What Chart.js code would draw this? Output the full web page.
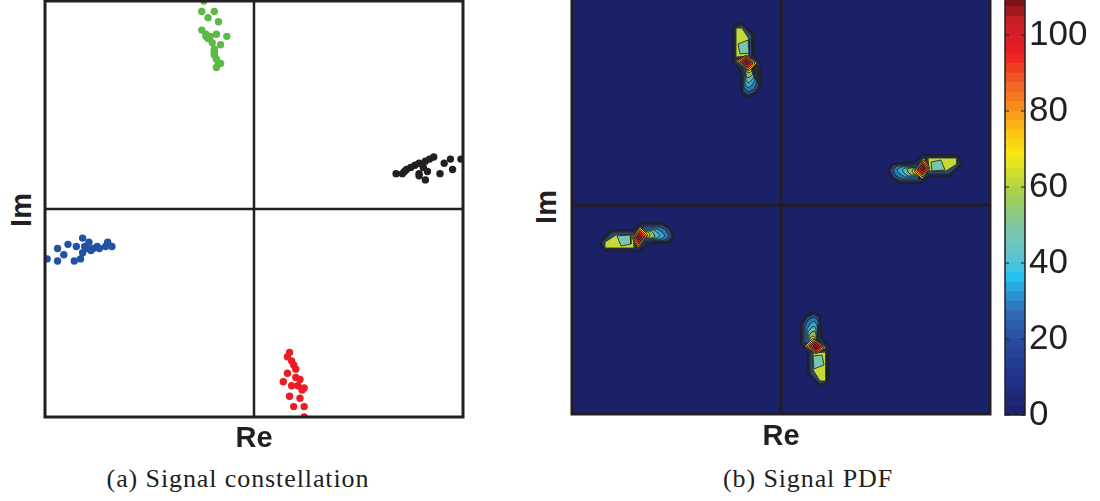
<!DOCTYPE html>
<html>
<head>
<meta charset="utf-8">
<title>Signal constellation and PDF</title>
<script src="https://cdn.jsdelivr.net/npm/chart.js@4.4.1/dist/chart.umd.min.js"></script>
<style>
  html, body { margin: 0; padding: 0; background: #fff; }
  body { width: 1100px; height: 501px; position: relative; overflow: hidden; }
  canvas { position: absolute; }
  #constellation { left: 40px; top: -4px; }
  #pdf { left: 567px; top: -9px; }
  #colorbar { left: 1000px; top: -8px; }
  .axisLabel { position: absolute; font-family: "Liberation Sans", Arial, sans-serif; font-weight: bold;
               font-size: 29px; color: #231f20; text-align: center; width: 80px; height: 34px; line-height: 34px; }
  .caption { position: absolute; font-family: "Liberation Serif", "Times New Roman", serif; font-size: 26px;
             letter-spacing: 0.9px; color: #231f20; text-align: center; width: 400px; height: 30px;
             line-height: 30px; top: 464px; }
</style>
</head>
<body>
<canvas id="constellation" width="428" height="426"></canvas>
<canvas id="pdf" width="428" height="428"></canvas>
<canvas id="colorbar" width="100" height="440"></canvas>

<div class="axisLabel" style="left:-19px; top:193px; transform: rotate(-90deg);">Im</div>
<div class="axisLabel" style="left:214px; top:420px;">Re</div>
<div class="axisLabel" style="left:506px; top:190px; transform: rotate(-90deg);">Im</div>
<div class="axisLabel" style="left:741px; top:418px;">Re</div>
<div class="caption" style="left:38px;">(a) Signal constellation</div>
<div class="caption" style="left:608px;">(b) Signal PDF</div>

<script>
// ---- (a) received symbols, [Re, Im], axes span -1..1 ----
const greenPts = [[-0.24,1.00],[-0.25,0.95],[-0.19,0.95],[-0.22,0.92],[-0.17,0.90],[-0.25,0.86],[-0.23,0.84],
  [-0.18,0.84],[-0.13,0.83],[-0.22,0.82],[-0.20,0.80],[-0.16,0.79],[-0.19,0.76],[-0.19,0.74],[-0.18,0.72],
  [-0.17,0.70],[-0.18,0.68],[-0.21,0.83],[-0.19,0.77],[-0.19,0.75],[-0.23,0.83],[-0.16,0.70]];
const blackPts = [[0.68,0.17],[0.71,0.17],[0.73,0.19],[0.75,0.20],[0.77,0.21],[0.79,0.22],[0.82,0.23],[0.84,0.24],
  [0.86,0.25],[0.79,0.17],[0.83,0.18],[0.82,0.14],[0.79,0.16],[0.89,0.17],[0.91,0.22],[0.94,0.24],[0.95,0.19],
  [0.99,0.24],[0.81,0.20],[0.72,0.18]];
const bluePts = [[-0.99,-0.24],[-0.94,-0.19],[-0.94,-0.25],[-0.91,-0.22],[-0.89,-0.17],[-0.86,-0.25],[-0.85,-0.18],
  [-0.82,-0.14],[-0.83,-0.24],[-0.82,-0.21],[-0.80,-0.19],[-0.79,-0.16],[-0.77,-0.19],[-0.75,-0.18],[-0.74,-0.19],
  [-0.71,-0.18],[-0.70,-0.16],[-0.68,-0.18],[-0.81,-0.18],[-0.78,-0.20]];
const redPts = [[0.17,-0.69],[0.16,-0.71],[0.18,-0.73],[0.19,-0.75],[0.16,-0.79],[0.14,-0.83],[0.20,-0.81],
  [0.18,-0.85],[0.22,-0.82],[0.21,-0.85],[0.24,-0.86],[0.17,-0.90],[0.22,-0.91],[0.19,-0.95],[0.24,-0.95],
  [0.24,-1.00],[0.20,-0.77],[0.23,-0.87]];

// ---- (b) filled contour polygons of the PDF, grid units (-209..209) ----
// each blob: outer outline, plateau lobe rings, inner lobe bands, peak rings
const blobTop = [
  [[-43,181],[-39,182],[-27,170],[-27,149],[-20,140],[-20,120],[-25,112],[-33,108],[-39,112],[-41,135],[-48,143],[-48,177]],
  [[-46,178],[-39,180],[-29,169],[-29,148],[-46,146]],
  [[-45,177],[-39,177],[-32,166],[-32,149],[-45,148]],
  [[-43,161],[-33,165],[-32,152],[-41,151]],
  [[-39,138],[-22,139],[-22,120],[-26,113],[-33,110],[-38,114]],
  [[-38,139],[-24,139],[-24,122],[-27,116],[-33,113],[-37,117]],
  [[-37,140],[-26,140],[-26,125],[-29,120],[-33,117],[-36,121]],
  [[-36,140],[-27,140],[-27,128],[-30,124],[-33,122],[-35,125]],
  [[-36,141],[-28,141],[-28,131],[-31,128],[-34,127],[-35,130]],
  [[-36,142],[-29,142],[-29,134],[-32,132],[-34,133]],
  [[-45,144],[-35,150],[-24,142],[-32,134]],
  [[-43,144],[-35,149],[-26,142],[-33,135]],
  [[-41,143],[-35,148],[-28,142],[-33,137]],
  [[-39,143],[-35,146],[-30,142],[-34,138]],
  [[-37,143],[-34,145],[-32,142],[-34,140]]
];
const blobRight = [
  [[180,45],[181,41],[169,29],[148,29],[139,22],[119,22],[111,27],[107,35],[111,41],[134,43],[142,50],[176,50]],
  [[177,48],[179,41],[168,31],[147,31],[145,48]],
  [[176,47],[176,41],[165,34],[148,34],[147,47]],
  [[160,45],[164,35],[151,34],[150,43]],
  [[137,41],[138,24],[119,24],[112,28],[109,35],[113,40]],
  [[138,40],[138,26],[121,26],[115,29],[112,35],[116,39]],
  [[139,39],[139,28],[124,28],[119,31],[116,35],[120,38]],
  [[139,38],[139,29],[127,29],[123,32],[121,35],[124,37]],
  [[140,38],[140,30],[130,30],[127,33],[126,36],[129,37]],
  [[141,38],[141,31],[133,31],[131,34],[132,36]],
  [[143,47],[149,37],[141,26],[133,34]],
  [[143,45],[148,37],[141,28],[134,35]],
  [[142,43],[147,37],[141,30],[136,35]],
  [[142,41],[145,37],[141,32],[137,36]],
  [[142,39],[144,36],[141,34],[139,36]]
];
const blobBottom = [
  [[43,-180],[39,-181],[27,-169],[27,-148],[20,-139],[20,-119],[25,-111],[33,-107],[39,-111],[41,-134],[48,-142],[48,-176]],
  [[46,-177],[39,-179],[29,-168],[29,-147],[46,-145]],
  [[45,-176],[39,-176],[32,-165],[32,-148],[45,-147]],
  [[43,-160],[33,-164],[32,-151],[41,-150]],
  [[39,-137],[22,-138],[22,-119],[26,-112],[33,-109],[38,-113]],
  [[38,-138],[24,-138],[24,-121],[27,-115],[33,-112],[37,-116]],
  [[37,-139],[26,-139],[26,-124],[29,-119],[33,-116],[36,-120]],
  [[36,-139],[27,-139],[27,-127],[30,-123],[33,-121],[35,-124]],
  [[36,-140],[28,-140],[28,-130],[31,-127],[34,-126],[35,-129]],
  [[36,-141],[29,-141],[29,-133],[32,-131],[34,-132]],
  [[45,-143],[35,-149],[24,-141],[32,-133]],
  [[43,-143],[35,-148],[26,-141],[33,-134]],
  [[41,-142],[35,-147],[28,-141],[33,-136]],
  [[39,-142],[35,-145],[30,-141],[34,-137]],
  [[37,-142],[34,-144],[32,-141],[34,-139]]
];
const blobLeft = [
  [[-180,-41],[-181,-37],[-169,-25],[-148,-25],[-139,-18],[-119,-18],[-111,-23],[-107,-31],[-111,-37],[-134,-39],[-142,-46],[-176,-46]],
  [[-177,-44],[-179,-37],[-168,-27],[-147,-27],[-145,-44]],
  [[-176,-43],[-176,-37],[-165,-30],[-148,-30],[-147,-43]],
  [[-160,-41],[-164,-31],[-151,-30],[-150,-39]],
  [[-137,-37],[-138,-20],[-119,-20],[-112,-24],[-109,-31],[-113,-36]],
  [[-138,-36],[-138,-22],[-121,-22],[-115,-25],[-112,-31],[-116,-35]],
  [[-139,-35],[-139,-24],[-124,-24],[-119,-27],[-116,-31],[-120,-34]],
  [[-139,-34],[-139,-25],[-127,-25],[-123,-28],[-121,-31],[-124,-33]],
  [[-140,-34],[-140,-26],[-130,-26],[-127,-29],[-126,-32],[-129,-33]],
  [[-141,-34],[-141,-27],[-133,-27],[-131,-30],[-132,-32]],
  [[-143,-43],[-149,-33],[-141,-22],[-133,-30]],
  [[-143,-41],[-148,-33],[-141,-24],[-134,-31]],
  [[-142,-39],[-147,-33],[-141,-26],[-136,-31]],
  [[-142,-37],[-145,-33],[-141,-28],[-137,-32]],
  [[-142,-35],[-144,-32],[-141,-30],[-139,-32]]
];
// PDF level of each polygon layer (same order as in the blobs)
const layerLevels = [10, 25, 62, 48, 22, 30, 37, 45, 55, 66, 72, 82, 92, 100, 108];

// colour bar
const colorbarEdges = [0,2.5,5,7.5,10,12.5,15,17.5,20,22.5,25,27.5,30,32.5,35,37.5,40,42.5,45,47.5,50,52.5,
  55,57.5,60,62.5,65,67.5,70,72.5,75,77.5,80,82.5,85,87.5,90,92.5,95,97.5,100,102.5,105,107.5,110];
const colorbarTicks = [0, 20, 40, 60, 80, 100];

// ---- styling ----
const ink = '#231f20';
const navy = '#1b2169';
const cmapStops = [[0,'#1c2068'],[8,'#1f2f86'],[18,'#26479c'],[27,'#2f6cb4'],[33,'#2aa3dc'],[36,'#22c0ef'],
  [42,'#63c4d0'],[50,'#7dc79e'],[58,'#a5cf4f'],[64,'#d3de2b'],[68,'#f6ea12'],[74,'#fcc413'],[80,'#f7941d'],
  [88,'#f15a24'],[95,'#ec1c24'],[103,'#cc1f25'],[110,'#6b1214']];
// how much each layer is darkened by the packed contour lines
const layerShade = [0.5, 0.45, 0, 0, 0.25, 0.18, 0.12, 0.1, 0.1, 0.05, 0.05, 0.05, 0.05, 0.05, 0.05];

function hexToRgb(h) {
  const n = parseInt(h.slice(1), 16);
  return [(n >> 16) & 255, (n >> 8) & 255, n & 255];
}
function cmap(v) {
  for (let i = 1; i < cmapStops.length; i++) {
    if (v <= cmapStops[i][0]) {
      const [v0, c0] = cmapStops[i - 1], [v1, c1] = cmapStops[i];
      const t = (v - v0) / (v1 - v0);
      const a = hexToRgb(c0), b = hexToRgb(c1);
      return a.map((x, k) => Math.round(x + (b[k] - x) * t));
    }
  }
  return hexToRgb(cmapStops[cmapStops.length - 1][1]);
}
function rgb(c, dark = 0) {
  const m = c.map(x => Math.round(x * (1 - dark) + 40 * dark));
  return `rgb(${m.join(',')})`;
}
const toXY = pts => pts.map(([x, y]) => ({ x, y }));

// fills the plot background and strokes the box round the chart area
const framePlugin = {
  id: 'frame',
  beforeDatasetsDraw(chart, args, opts) {
    if (!opts.fill) return;
    const { ctx, chartArea: a } = chart;
    ctx.save();
    ctx.fillStyle = opts.fill;
    ctx.fillRect(a.left, a.top, a.width, a.height);
    ctx.restore();
  },
  afterDatasetsDraw(chart, args, opts) {
    const { ctx, chartArea: a } = chart;
    ctx.save();
    ctx.strokeStyle = ink;
    ctx.lineWidth = opts.width || 3;
    ctx.strokeRect(a.left, a.top, a.width, a.height);
    if (opts.ticks) {
      const y = chart.scales.y;
      ctx.lineWidth = 1;
      y.ticks.forEach(t => {
        const py = y.getPixelForValue(t.value);
        ctx.beginPath();
        ctx.moveTo(a.left, py); ctx.lineTo(a.left + 4, py);
        ctx.moveTo(a.right - 4, py); ctx.lineTo(a.right, py);
        ctx.stroke();
      });
    }
    ctx.restore();
  }
};

const hiddenAxis = (min, max) => ({ type: 'linear', min, max, display: false });

// ---- (a) constellation ----
const dot = (pts, color) => ({
  data: toXY(pts), backgroundColor: color, borderWidth: 0, pointRadius: 3.7, pointHoverRadius: 3.7
});
const crossLine = (pts, w) => ({
  type: 'line', data: toXY(pts), borderColor: ink, borderWidth: w, pointRadius: 0, fill: false, tension: 0
});

new Chart(document.getElementById('constellation'), {
  type: 'scatter',
  data: {
    datasets: [
      dot(greenPts, '#5cb946'),
      dot(blackPts, '#231f20'),
      dot(bluePts, '#2152a3'),
      dot(redPts, '#ec1c24'),
      crossLine([[0, -1], [0, 1]], 2.5),
      crossLine([[-1, 0], [1, 0]], 2.5)
    ]
  },
  options: {
    responsive: false,
    animation: false,
    layout: { padding: 5 },
    scales: { x: hiddenAxis(-1, 1), y: hiddenAxis(-1, 1) },
    plugins: { legend: { display: false }, tooltip: { enabled: false }, frame: { width: 3 } }
  },
  plugins: [framePlugin]
});

// ---- (b) PDF contour ----
const contourSets = [];
[blobTop, blobRight, blobBottom, blobLeft].forEach(blob => {
  blob.forEach((poly, i) => {
    contourSets.push({
      data: toXY(poly.concat([poly[0]])),
      backgroundColor: rgb(cmap(layerLevels[i]), layerShade[i]),
      borderColor: 'rgba(30,30,36,0.8)',
      borderWidth: i === 0 ? 2 : 1,
      fill: 'shape',
      pointRadius: 0,
      tension: 0
    });
  });
});
// Chart.js paints the first dataset on top, so inner layers go first
contourSets.reverse();

new Chart(document.getElementById('pdf'), {
  type: 'line',
  data: {
    datasets: [
      { data: toXY([[0, -209], [0, 209]]), borderColor: ink, borderWidth: 3, pointRadius: 0, fill: false },
      { data: toXY([[-209, 0], [209, 0]]), borderColor: ink, borderWidth: 3, pointRadius: 0, fill: false },
      ...contourSets
    ]
  },
  options: {
    responsive: false,
    animation: false,
    layout: { padding: 5 },
    scales: { x: hiddenAxis(-209, 209), y: hiddenAxis(-209, 209) },
    plugins: { legend: { display: false }, tooltip: { enabled: false }, frame: { width: 3, fill: navy } }
  },
  plugins: [framePlugin]
});

// ---- colour bar ----
const bandSets = colorbarEdges.slice(1).map((hi, i) => {
  const lo = colorbarEdges[i];
  return {
    data: [hi - lo],
    backgroundColor: rgb(cmap((lo + hi) / 2)),
    borderWidth: 0,
    barPercentage: 1,
    categoryPercentage: 1
  };
});

new Chart(document.getElementById('colorbar'), {
  type: 'bar',
  data: { labels: [''], datasets: bandSets },
  options: {
    responsive: false,
    animation: false,
    layout: { padding: { top: 5, bottom: 17, left: 5, right: 0 } },
    scales: {
      x: { stacked: true, display: false },
      y: {
        stacked: true, position: 'right', min: 0, max: 110,
        grid: { display: false, drawTicks: false },
        border: { display: false },
        afterBuildTicks: s => { s.ticks = colorbarTicks.map(v => ({ value: v })); },
        ticks: { color: ink, padding: 4, font: { family: 'Liberation Sans', size: 35 } },
        afterFit: s => { s.width = 75; s.paddingTop = 0; s.paddingBottom = 0; }
      }
    },
    plugins: { legend: { display: false }, tooltip: { enabled: false }, frame: { width: 1.5, ticks: true } }
  },
  plugins: [framePlugin]
});
</script>
</body>
</html>
